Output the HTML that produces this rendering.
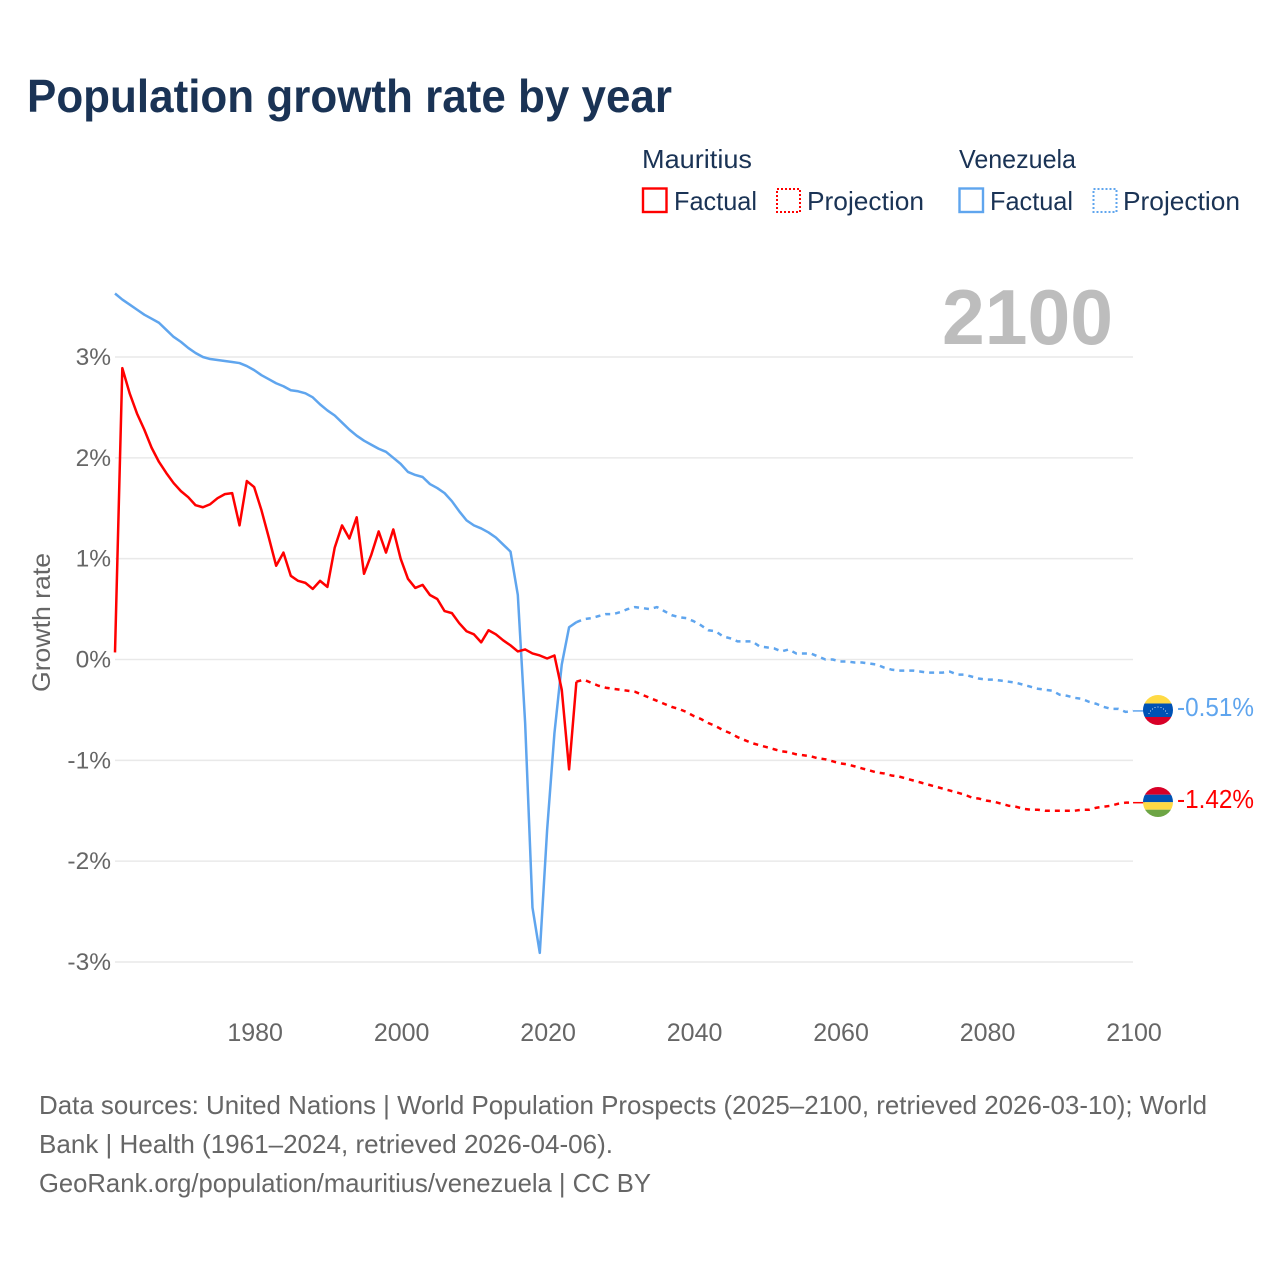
<!DOCTYPE html>
<html lang="en">
<head>
<meta charset="utf-8">
<title>Population growth rate by year</title>
<style>
html,body{margin:0;padding:0;background:#fff;width:1280px;height:1280px;overflow:hidden}
svg{display:block}
text{font-family:"Liberation Sans",sans-serif}
</style>
</head>
<body>
<svg id="chart" xmlns="http://www.w3.org/2000/svg" width="1280" height="1280" viewBox="0 0 1280 1280">
  <defs>
    <clipPath id="clip-ve"><circle cx="1158" cy="710" r="15"/></clipPath>
    <clipPath id="clip-mu"><circle cx="1158" cy="802" r="15"/></clipPath>
  </defs>
  <rect width="1280" height="1280" fill="#fff"/>
  <text x="27" y="112" font-size="46" font-weight="bold" fill="#1a3355" textLength="645" lengthAdjust="spacingAndGlyphs">Population growth rate by year</text>

  <g font-size="26" fill="#1a3355">
    <text x="642" y="168" textLength="110" lengthAdjust="spacingAndGlyphs">Mauritius</text>
    <text x="959" y="168" textLength="117" lengthAdjust="spacingAndGlyphs">Venezuela</text>
    <rect x="643" y="188.500" width="23.500" height="23.500" fill="none" stroke="#ff0000" stroke-width="2.400"/>
    <text x="674" y="210" textLength="83" lengthAdjust="spacingAndGlyphs">Factual</text>
    <rect x="777" y="189" width="23" height="23" fill="none" stroke="#ff0000" stroke-width="2" stroke-dasharray="2 2"/>
    <text x="807" y="210" textLength="117" lengthAdjust="spacingAndGlyphs">Projection</text>
    <rect x="959.500" y="188.500" width="23.500" height="23.500" fill="none" stroke="#5fa5ee" stroke-width="2.400"/>
    <text x="990" y="210" textLength="83" lengthAdjust="spacingAndGlyphs">Factual</text>
    <rect x="1093.500" y="189" width="23" height="23" fill="none" stroke="#5fa5ee" stroke-width="2" stroke-dasharray="2 2"/>
    <text x="1123" y="210" textLength="117" lengthAdjust="spacingAndGlyphs">Projection</text>
  </g>

  <g id="grid"></g>
  <g id="yticks"></g>
  <g id="xticks"></g>
  <text transform="translate(50,692) rotate(-90)" font-size="25" fill="#666" textLength="139" lengthAdjust="spacingAndGlyphs">Growth rate</text>
  <text x="942" y="344" font-size="78" font-weight="bold" fill="#bdbdbd" textLength="171" lengthAdjust="spacingAndGlyphs">2100</text>
  <g id="series"></g>

  <g clip-path="url(#clip-ve)">
    <rect x="1143" y="695" width="30" height="8.500" fill="#ffda44"/>
    <rect x="1143" y="703.500" width="30" height="13.500" fill="#0052b4"/>
    <rect x="1143" y="717" width="30" height="9" fill="#d80027"/>
    <g fill="#fff">
      <circle cx="1149" cy="713.500" r=".55"/><circle cx="1150.500" cy="711" r=".55"/><circle cx="1152.500" cy="709" r=".55"/><circle cx="1155" cy="707.500" r=".55"/><circle cx="1158" cy="707" r=".55"/><circle cx="1161" cy="707.500" r=".55"/><circle cx="1163.500" cy="709" r=".55"/><circle cx="1165.500" cy="711" r=".55"/><circle cx="1167" cy="713.500" r=".55"/>
    </g>
  </g>
  <g clip-path="url(#clip-mu)">
    <rect x="1143" y="787" width="30" height="7.700" fill="#d80027"/>
    <rect x="1143" y="794.700" width="30" height="7.500" fill="#0052b4"/>
    <rect x="1143" y="802.200" width="30" height="7.500" fill="#ffda44"/>
    <rect x="1143" y="809.700" width="30" height="7.500" fill="#6da544"/>
  </g>
  <text x="1177" y="716" font-size="26" fill="#5fa5ee" textLength="77" lengthAdjust="spacingAndGlyphs">-0.51%</text>
  <text x="1177" y="808" font-size="26" fill="#ff0000" textLength="77" lengthAdjust="spacingAndGlyphs">-1.42%</text>

  <g font-size="26" fill="#666">
    <text x="39" y="1114" textLength="1168" lengthAdjust="spacingAndGlyphs">Data sources: United Nations | World Population Prospects (2025–2100, retrieved 2026-03-10); World</text>
    <text x="39" y="1153" textLength="574" lengthAdjust="spacingAndGlyphs">Bank | Health (1961–2024, retrieved 2026-04-06).</text>
    <text x="39" y="1192" textLength="612" lengthAdjust="spacingAndGlyphs">GeoRank.org/population/mauritius/venezuela | CC BY</text>
  </g>
</svg>
<script>
const yTicks = [3, 2, 1, 0, -1, -2, -3];
const xTicks = [1980, 2000, 2020, 2040, 2060, 2080, 2100];
const factualStartYear = 1961;
const projectionStartYear = 2024;
const mauritiusFactual = [0.07,2.89,2.64,2.44,2.28,2.10,1.96,1.85,1.75,1.67,1.61,1.53,1.51,1.54,1.60,1.64,1.65,1.33,1.77,1.71,1.48,1.21,0.93,1.06,0.83,0.78,0.76,0.70,0.78,0.72,1.11,1.33,1.20,1.41,0.85,1.04,1.27,1.06,1.29,1.00,0.80,0.71,0.74,0.64,0.60,0.48,0.46,0.36,0.28,0.25,0.17,0.29,0.25,0.19,0.14,0.08,0.10,0.06,0.04,0.01,0.04,-0.30,-1.09,-0.22];
const mauritiusProjection = [-0.22,-0.20,-0.23,-0.26,-0.28,-0.29,-0.30,-0.31,-0.32,-0.35,-0.38,-0.41,-0.44,-0.47,-0.49,-0.52,-0.56,-0.59,-0.63,-0.66,-0.70,-0.73,-0.77,-0.80,-0.83,-0.85,-0.87,-0.89,-0.91,-0.92,-0.94,-0.95,-0.96,-0.98,-0.99,-1.01,-1.03,-1.04,-1.06,-1.08,-1.10,-1.12,-1.13,-1.15,-1.16,-1.18,-1.20,-1.22,-1.24,-1.26,-1.28,-1.30,-1.32,-1.34,-1.37,-1.38,-1.40,-1.41,-1.43,-1.45,-1.46,-1.48,-1.49,-1.49,-1.50,-1.50,-1.50,-1.50,-1.50,-1.49,-1.49,-1.47,-1.46,-1.45,-1.43,-1.42,-1.42];
const venezuelaFactual = [3.63,3.57,3.52,3.47,3.42,3.38,3.34,3.27,3.20,3.15,3.09,3.04,3.00,2.98,2.97,2.96,2.95,2.94,2.91,2.87,2.82,2.78,2.74,2.71,2.67,2.66,2.64,2.60,2.53,2.47,2.42,2.35,2.28,2.22,2.17,2.13,2.09,2.06,2.00,1.94,1.86,1.83,1.81,1.74,1.70,1.65,1.57,1.47,1.38,1.33,1.30,1.26,1.21,1.14,1.07,0.64,-0.63,-2.46,-2.91,-1.69,-0.73,-0.05,0.32,0.37];
const venezuelaProjection = [0.37,0.40,0.41,0.43,0.45,0.45,0.47,0.50,0.52,0.51,0.50,0.52,0.48,0.44,0.42,0.41,0.38,0.34,0.29,0.28,0.23,0.21,0.18,0.18,0.18,0.13,0.12,0.11,0.08,0.10,0.06,0.06,0.06,0.03,0.00,0.00,-0.02,-0.02,-0.03,-0.03,-0.04,-0.05,-0.08,-0.10,-0.11,-0.11,-0.11,-0.12,-0.13,-0.13,-0.13,-0.12,-0.15,-0.15,-0.17,-0.19,-0.20,-0.20,-0.21,-0.22,-0.23,-0.25,-0.27,-0.29,-0.30,-0.31,-0.35,-0.36,-0.38,-0.39,-0.42,-0.44,-0.47,-0.49,-0.49,-0.52,-0.51];

const NS = 'http://www.w3.org/2000/svg';
const RED = '#ff0000';
const BLUE = '#5fa5ee';
const xScale = function (year) { return 115 + (year - 1961) * 7.324; };
const yScale = function (value) { return 659.5 - value * 100.83; };

function make(parentId, tag) {
  const el = document.createElementNS(NS, tag);
  document.getElementById(parentId).appendChild(el);
  return el;
}

yTicks.forEach(function (tick) {
  const line = make('grid', 'line');
  
  
  line.setAttribute('x1', 115);
  line.setAttribute('x2', 1133);
  line.setAttribute('y1', yScale(tick));
  line.setAttribute('y2', yScale(tick));
  line.setAttribute('stroke', '#e9e9e9');
  line.setAttribute('stroke-width', 1.5);

  const label = make('yticks', 'text');
  
  
  label.setAttribute('x', 111);
  label.setAttribute('y', yScale(tick) + 8);
  label.setAttribute('text-anchor', 'end');
  label.setAttribute('font-size', 24.5);
  label.setAttribute('fill', '#666');
  label.textContent = tick + '%';
});

xTicks.forEach(function (tick) {
  const label = make('xticks', 'text');
  
  
  label.setAttribute('x', xScale(tick) + 1);
  label.setAttribute('y', 1041);
  label.setAttribute('text-anchor', 'middle');
  label.setAttribute('font-size', 25);
  label.setAttribute('fill', '#666');
  label.textContent = tick;
});

function pointsFor(values, startYear) {
  return values.map(function (value, i) {
    return xScale(startYear + i).toFixed(2) + ',' + yScale(value).toFixed(2);
  }).join(' ');
}

function drawLine(values, startYear, color, dashed) {
  const line = make('series', 'polyline');
  
  
  line.setAttribute('points', pointsFor(values, startYear));
  line.setAttribute('fill', 'none');
  line.setAttribute('stroke', color);
  line.setAttribute('stroke-width', 2.5);
  line.setAttribute('stroke-linejoin', 'round');
  if (dashed) {
    line.setAttribute('stroke-dasharray', '5 5');
  }
}

function drawConnector(values, color) {
  const last = values[values.length - 1];
  const line = make('series', 'line');
  
  
  line.setAttribute('x1', xScale(2100));
  line.setAttribute('x2', 1145);
  line.setAttribute('y1', yScale(last));
  line.setAttribute('y2', yScale(last));
  line.setAttribute('stroke', color);
  line.setAttribute('stroke-width', 1.5);
}

drawLine(venezuelaFactual, factualStartYear, BLUE, false);
drawLine(venezuelaProjection, projectionStartYear, BLUE, true);
drawLine(mauritiusFactual, factualStartYear, RED, false);
drawLine(mauritiusProjection, projectionStartYear, RED, true);
drawConnector(venezuelaProjection, BLUE);
drawConnector(mauritiusProjection, RED);
</script>
</body>
</html>
